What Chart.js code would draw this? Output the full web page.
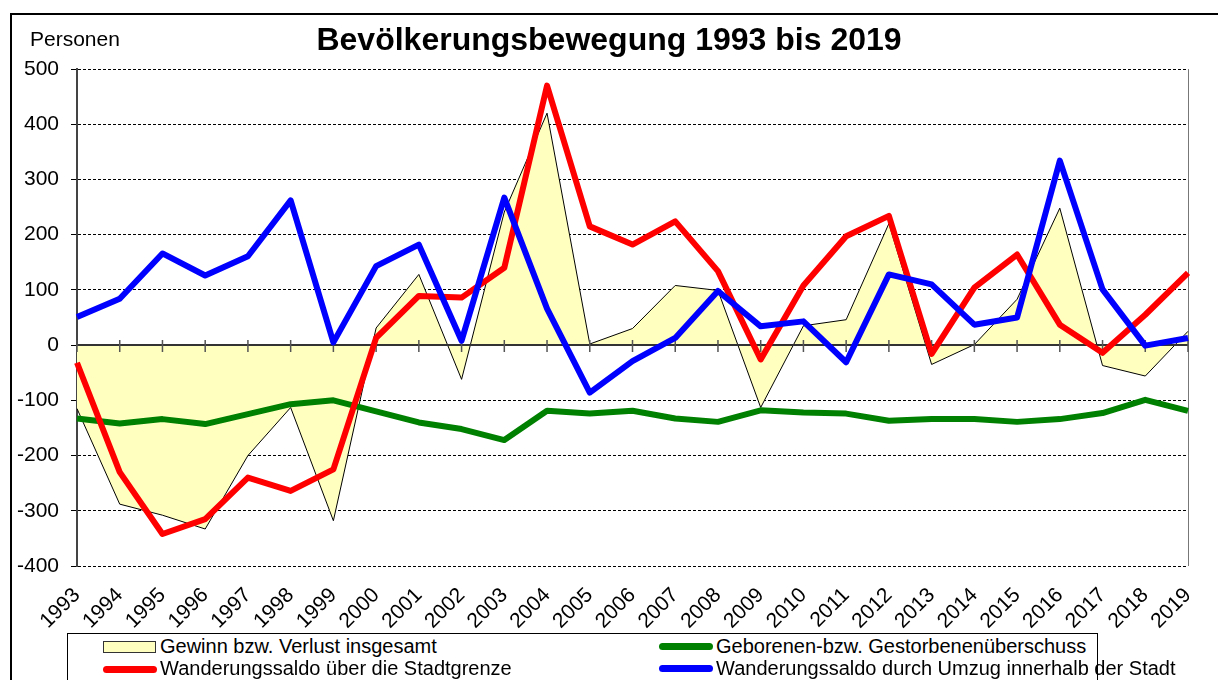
<!DOCTYPE html>
<html lang="de">
<head>
<meta charset="utf-8">
<title>Bevölkerungsbewegung 1993 bis 2019</title>
<script src="https://cdn.jsdelivr.net/npm/chart.js@4.4.1/dist/chart.umd.min.js"></script>
<style>
  html, body { margin: 0; padding: 0; background: #fff; }
  body { width: 1218px; height: 680px; position: relative; overflow: hidden;
         font-family: "Liberation Sans", Arial, sans-serif; color: #000; }
  #frame { position: absolute; left: 10px; top: 13px; width: 1300px; height: 800px;
           border-left: 2px solid #000; border-top: 2px solid #000; }
  #chart { position: absolute; left: 0; top: 0; }
  .title { position: absolute; left: 0; top: 23px; width: 1218px; text-align: center;
           font-size: 32px; font-weight: bold; line-height: 1; }
  .unit { position: absolute; left: 30px; top: 28px; font-size: 21px; line-height: 1; }
  .legend { position: absolute; left: 67px; top: 633px; width: 1029px; height: 60px;
            border: 1px solid #000; background: #fff; }
  .item { position: absolute; font-size: 20px; line-height: 1; white-space: nowrap; }
  .box { position: absolute; width: 51px; height: 10px; background: #ffffc0; border: 1px solid #333; }
  .line { position: absolute; width: 54px; height: 7px; border-radius: 4px; }
</style>
</head>
<body>
<div id="frame"></div>
<canvas id="chart" width="1218" height="680"></canvas>
<div class="unit">Personen</div>
<div class="title">Bevölkerungsbewegung 1993 bis 2019</div>
<div class="legend">
  <div class="box" style="left:35px; top:7px;"></div>
  <div class="item" style="left:92px; top:2px;">Gewinn bzw. Verlust insgesamt</div>
  <div class="line" style="left:591px; top:9px; background:#008000;"></div>
  <div class="item" style="left:648px; top:2px;">Geborenen-bzw. Gestorbenenüberschuss</div>
  <div class="line" style="left:35px; top:32px; background:#ff0000;"></div>
  <div class="item" style="left:92px; top:24px;">Wanderungssaldo über die Stadtgrenze</div>
  <div class="line" style="left:591px; top:31px; background:#0000ff;"></div>
  <div class="item" style="left:648px; top:24px;">Wanderungssaldo durch Umzug innerhalb der Stadt</div>
</div>
<script>
const years = ['1993', '1994', '1995', '1996', '1997', '1998', '1999', '2000', '2001',
    '2002', '2003', '2004', '2005', '2006', '2007', '2008', '2009', '2010', '2011',
    '2012', '2013', '2014', '2015', '2016', '2017', '2018', '2019'];

// Gewinn bzw. Verlust insgesamt
const gesamt = [-115, -288, -308, -333, -200, -113, -318, 31, 128, -62, 241, 420, 2,
    30, 108, 99, -113, 35, 46, 220, -35, 1, 83, 248, -37, -56, 25];
// Geborenen- bzw. Gestorbenenüberschuss
const natuerlich = [-133, -142, -134, -143, -125, -107, -100, -120, -140, -152, -172,
    -119, -124, -119, -133, -139, -118, -122, -124, -137, -134, -134, -139, -134, -123, -99, -119];
// Wanderungssaldo über die Stadtgrenze
const aussen = [-32, -230, -342, -315, -240, -264, -225, 13, 89, 86, 140, 470, 215,
    182, 224, 134, -26, 108, 197, 234, -16, 104, 164, 37, -14, 55, 131];
// Wanderungssaldo durch Umzug innerhalb der Stadt
const innen = [51, 84, 166, 126, 161, 262, 5, 143, 182, 8, 267, 66, -86, -29, 13, 98,
    34, 43, -31, 128, 110, 37, 50, 334, 101, -1, 13];

const yMin = -400;
const yMax = 500;
const yStep = 100;

const font = "'Liberation Sans', Arial, sans-serif";

// zero line with tick marks, drawn over the yellow area but under the lines
const zeroAxis = {
    id: 'zeroAxis',
    beforeDatasetsDraw(chart) {
        const {ctx, chartArea} = chart;
        ctx.save();
        ctx.strokeStyle = '#777';
        ctx.lineWidth = 1;
        ctx.beginPath();
        ctx.moveTo(chartArea.right + 0.5, chartArea.top);
        ctx.lineTo(chartArea.right + 0.5, chartArea.bottom);
        ctx.stroke();
        ctx.restore();
    },
    afterDatasetDraw(chart, args) {
        if (args.index !== 0) return;
        const {ctx, chartArea, scales} = chart;
        const y0 = Math.round(scales.y.getPixelForValue(0));
        ctx.save();
        ctx.strokeStyle = '#333';
        ctx.lineWidth = 2;
        ctx.beginPath();
        ctx.moveTo(chartArea.left, y0);
        ctx.lineTo(chartArea.right, y0);
        ctx.stroke();
        ctx.lineWidth = 1.5;
        ctx.strokeStyle = '#555';
        ctx.beginPath();
        years.forEach(function(_, i) {
            const px = scales.x.getPixelForValue(i);
            ctx.moveTo(px, y0 - 5);
            ctx.lineTo(px, y0 + 7);
        });
        ctx.stroke();
        ctx.restore();
    }
};

new Chart(document.getElementById('chart'), {
    type: 'line',
    data: {
        labels: years,
        datasets: [{
            label: 'Gewinn bzw. Verlust insgesamt',
            data: gesamt,
            borderColor: '#000',
            borderWidth: 1,
            backgroundColor: '#ffffc0',
            fill: 'origin',
            order: 4
        }, {
            label: 'Geborenen-bzw. Gestorbenenüberschuss',
            data: natuerlich,
            borderColor: '#008000',
            borderWidth: 6,
            order: 3
        }, {
            label: 'Wanderungssaldo über die Stadtgrenze',
            data: aussen,
            borderColor: '#ff0000',
            borderWidth: 6,
            order: 2
        }, {
            label: 'Wanderungssaldo durch Umzug innerhalb der Stadt',
            data: innen,
            borderColor: '#0000ff',
            borderWidth: 6,
            order: 1
        }]
    },
    options: {
        responsive: false,
        animation: false,
        devicePixelRatio: 1,
        layout: { padding: { left: 0, top: 69, right: 30, bottom: 0 } },
        elements: {
            point: { radius: 0, hoverRadius: 0 },
            line: { tension: 0, borderJoinStyle: 'round', fill: false }
        },
        plugins: {
            legend: { display: false },
            tooltip: { enabled: false },
            title: { display: false }
        },
        scales: {
            x: {
                offset: false,
                grid: { display: false, drawTicks: false },
                border: { display: false },
                ticks: {
                    autoSkip: false,
                    maxRotation: 45,
                    minRotation: 45,
                    padding: 17,
                    color: '#000',
                    font: { family: font, size: 21 }
                },
                afterFit: function(s) {
                    s.height = 114;
                    s.paddingLeft = 0;
                    s.paddingRight = 0;
                }
            },
            y: {
                min: yMin,
                max: yMax,
                ticks: {
                    stepSize: yStep,
                    padding: 12,
                    color: '#000',
                    font: { family: font, size: 21 }
                },
                grid: {
                    color: function(c) { return c.tick && c.tick.value === 0 ? 'rgba(0,0,0,0)' : '#000'; },
                    tickColor: '#000',
                    lineWidth: 1,
                    tickLength: 6
                },
                border: { display: true, color: '#444', width: 2, dash: [3, 2] },
                afterFit: function(s) { s.width = 77; }
            }
        }
    },
    plugins: [zeroAxis]
});
</script>
</body>
</html>
